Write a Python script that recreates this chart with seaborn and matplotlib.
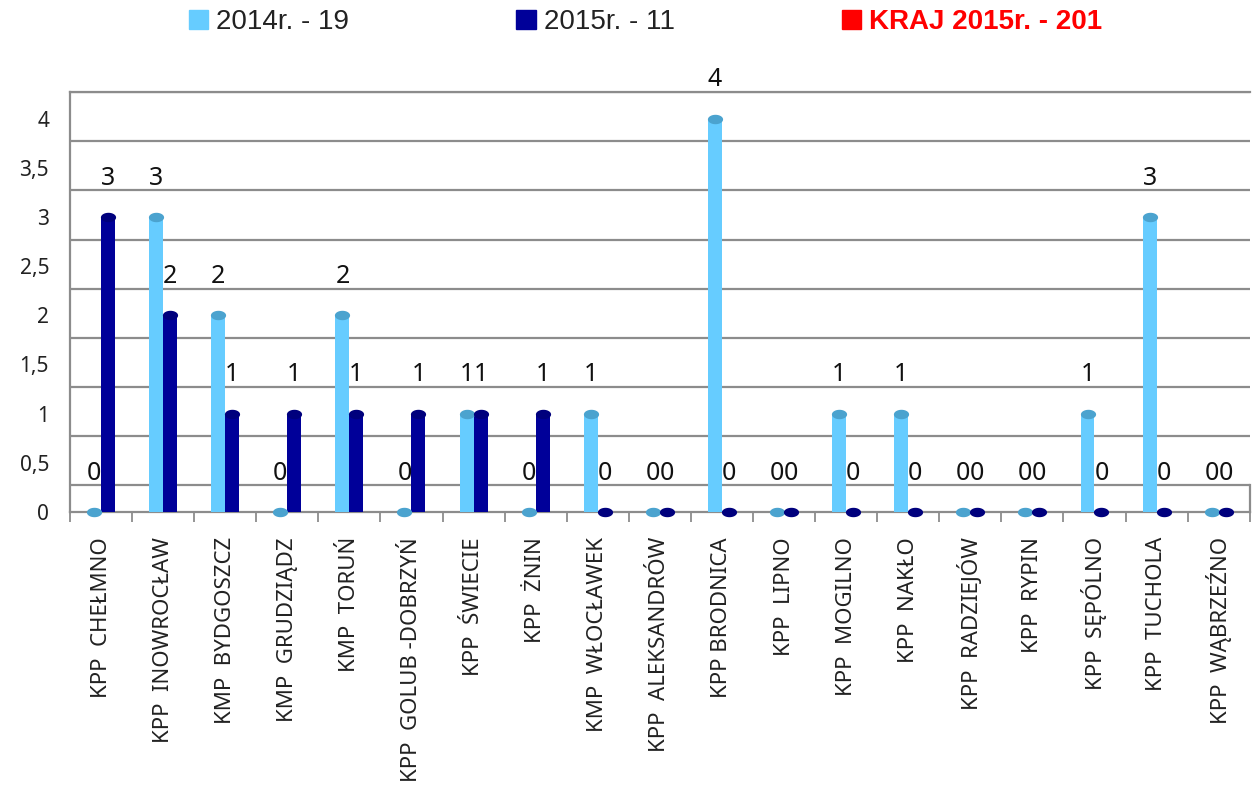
import seaborn as sns
import matplotlib.pyplot as plt
import numpy as np
import pandas as pd
from matplotlib.patches import Patch
from matplotlib.path import Path
from matplotlib.ticker import FixedLocator, FuncFormatter

units = ['KPP  CHEŁMNO', 'KPP  INOWROCŁAW', 'KMP  BYDGOSZCZ', 'KMP  GRUDZIĄDZ',
         'KMP  TORUŃ', 'KPP  GOLUB -DOBRZYŃ', 'KPP  ŚWIECIE', 'KPP  ŻNIN',
         'KMP  WŁOCŁAWEK', 'KPP  ALEKSANDRÓW', 'KPP BRODNICA', 'KPP  LIPNO',
         'KPP  MOGILNO', 'KPP  NAKŁO', 'KPP  RADZIEJÓW', 'KPP  RYPIN',
         'KPP  SĘPÓLNO', 'KPP  TUCHOLA', 'KPP  WĄBRZEŹNO']
y2014 = [0, 3, 2, 0, 2, 0, 1, 0, 1, 0, 4, 0, 1, 1, 0, 0, 1, 3, 0]
y2015 = [3, 2, 1, 1, 1, 1, 1, 1, 0, 0, 0, 0, 0, 0, 0, 0, 0, 0, 0]
years = ['2014', '2015']
legend_labels = ['2014r. - 19', '2015r. - 11', 'KRAJ 2015r. - 201']

bar_colors = ['#66CCFF', '#000099']
cap_colors = ['#4BA3CF', '#00007D']
grey = '#8C8C8C'

df = pd.DataFrame({'unit': units * 2,
                   'value': y2014 + y2015,
                   'year': [years[0]] * len(units) + [years[1]] * len(units)})

sns.set_theme(style='white')
plt.rcParams['font.family'] = ['Noto Sans', 'DejaVu Sans']

fig = plt.figure(figsize=(12.56, 7.89), dpi=100)
ax = fig.add_axes([0.0557, 0.351, 0.9393, 0.5324])

sns.barplot(data=df, x='unit', y='value', hue='year', palette=bar_colors,
            width=0.45, gap=0, saturation=1, legend=False, linewidth=0,
            ax=ax, zorder=3)

# elliptic caps on top of the cylinders (also show the zero values)
t = np.linspace(0, 2 * np.pi, 40)
ellipse = Path(np.column_stack([np.cos(t), 0.62 * np.sin(t)]))
for cont, cc in zip(ax.containers, cap_colors):
    xs = [p.get_x() + p.get_width() / 2 for p in cont.patches]
    hs = [p.get_height() for p in cont.patches]
    ax.scatter(xs, hs, marker=ellipse, s=120, color=cc, linewidths=0,
               zorder=4, clip_on=False)
    ax.bar_label(cont, labels=[str(int(h)) for h in hs], padding=19,
                 fontsize=18, color='#111111')

ax.set_xlim(-0.5, len(units) - 0.5)
ax.set_ylim(0, 4.27)

# y axis: ticks every 0.5, back-wall grid shifted like the 3D original
ax.yaxis.set_major_locator(FixedLocator(np.arange(0, 4.01, 0.5)))
ax.yaxis.set_major_formatter(FuncFormatter(lambda v, p: f'{v:g}'.replace('.', ',')))
ax.yaxis.set_minor_locator(FixedLocator(np.arange(0.27, 4.3, 0.5)))
ax.grid(which='minor', axis='y', color=grey, linewidth=1.6, zorder=0)
ax.grid(which='major', visible=False)
ax.tick_params(axis='y', which='major', length=7, width=1.3, color=grey,
               labelsize=15, pad=8, labelcolor='#222222')
ax.tick_params(axis='y', which='minor', length=0)

ax.xaxis.set_minor_locator(FixedLocator(np.arange(-0.5, len(units), 1)))
ax.tick_params(axis='x', which='major', length=0, pad=18, labelsize=16,
               labelrotation=90, labelcolor='#222222')
ax.tick_params(axis='x', which='minor', length=7, width=1.3, color=grey,
               bottom=True)
for lab in ax.get_xticklabels():
    lab.set_verticalalignment('top')

for side in ['left', 'bottom', 'top', 'right']:
    ax.spines[side].set_color(grey)
    ax.spines[side].set_linewidth(1.6)
ax.spines['right'].set_bounds(0, 0.27)
ax.set_xlabel('')
ax.set_ylabel('')

handles = [Patch(color=bar_colors[0]), Patch(color=bar_colors[1]), Patch(color='#FF0000')]
leg = fig.legend(handles, legend_labels, loc='center', bbox_to_anchor=(0.514, 0.972),
                 ncol=3, frameon=False, columnspacing=6, handlelength=0.7,
                 handleheight=0.7, handletextpad=0.3,
                 prop={'family': ['Liberation Sans'], 'size': 20})
for txt, col in zip(leg.get_texts(), ['#222222', '#222222', '#FF0000']):
    txt.set_color(col)
leg.get_texts()[2].set_fontweight('bold')

fig.savefig('out.png', dpi=100, facecolor='white')
